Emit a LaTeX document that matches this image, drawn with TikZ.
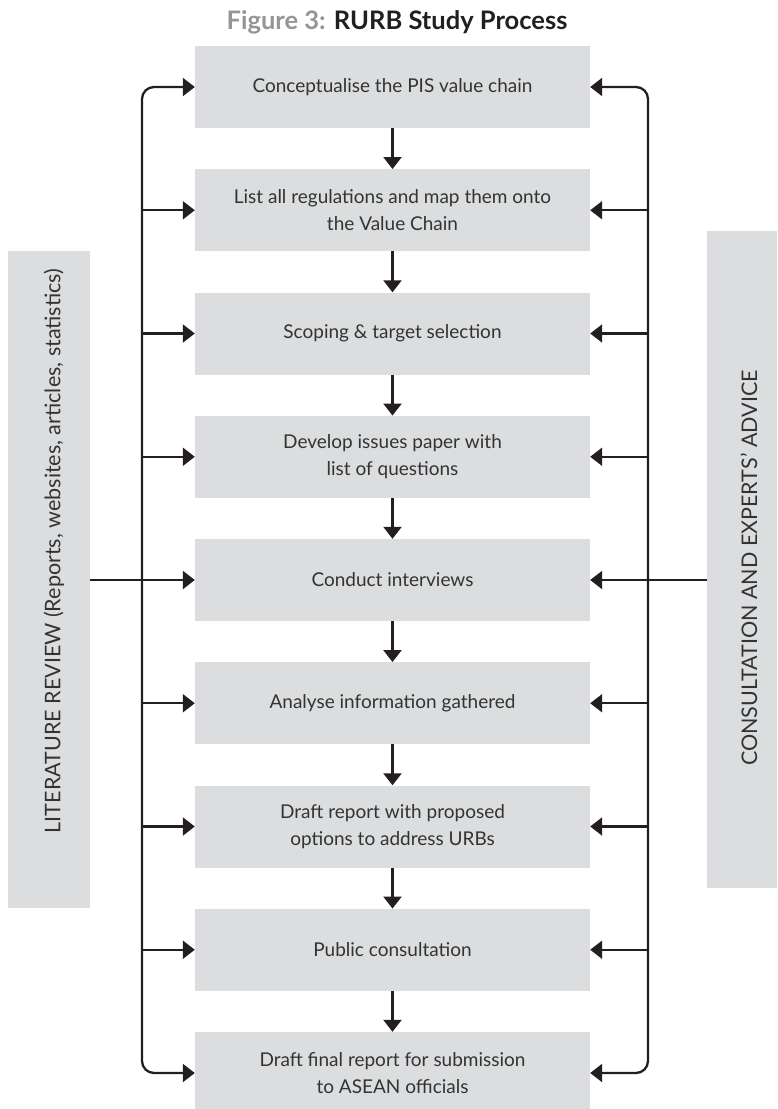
\documentclass[tikz,border=0pt]{standalone}
\usepackage{fontspec}
\setmainfont{Lato}
\usetikzlibrary{arrows.meta}
\definecolor{boxgrey}{HTML}{DCDDDF}
\definecolor{linedark}{HTML}{231F20}
\definecolor{txt}{HTML}{333333}
\definecolor{figgrey}{HTML}{939598}
\tikzset{
  stepbox/.style={fill=boxgrey, draw=none, minimum width=395pt, minimum height=82pt,
    align=center, text=txt, font=\fontsize{19}{27.5}\selectfont, inner sep=0pt},
  sidebar/.style={fill=boxgrey, draw=none, inner sep=0pt},
  sidetext/.style={rotate=90, text=txt, font=\fontsize{21.5}{24}\selectfont, inner sep=0pt},
  conn/.style={draw=linedark, line width=2.3pt, -{Triangle[width=18pt,length=12pt]}},
  trunk/.style={draw=linedark, line width=2.3pt, rounded corners=12pt,
    {Triangle[width=18pt,length=12pt]}-{Triangle[width=18pt,length=12pt]}}
}
\begin{document}
\begin{tikzpicture}[x=1pt,y=-1pt]
\useasboundingbox (0,0) rectangle (777,1109);
\node[font=\fontsize{25.5}{28}\selectfont\bfseries] (title) at (397,22)
  {\textcolor{figgrey}{Figure 3:} \textcolor{linedark}{RURB Study Process}};
% side bars
\node[sidebar, minimum width=82pt, minimum height=657pt] (litbar) at (49,579.5) {};
\node[sidetext] (littext) at (54,551) {LITERATURE REVIEW (Reports, websites, articles, statistics)};
\node[sidebar, minimum width=70pt, minimum height=657pt] (conbar) at (742,559.5) {};
\node[sidetext] (context) at (749,568) {CONSULTATION AND EXPERTS’ ADVICE};
% step boxes
\node[stepbox] (b1) at (392.5,87) {Conceptualise the PIS value chain};
\node[stepbox] (b2) at (392.5,210.25) {List all regulations and map them onto\\the Value Chain};
\node[stepbox] (b3) at (392.5,333.5) {Scoping \& target selection};
\node[stepbox] (b4) at (392.5,456.75) {Develop issues paper with\\list of questions};
\node[stepbox] (b5) at (392.5,580) {Conduct interviews};
\node[stepbox] (b6) at (392.5,703.25) {Analyse information gathered};
\node[stepbox] (b7) at (392.5,826.5) {Draft report with proposed\\options to address URBs};
\node[stepbox] (b8) at (392.5,949.75) {Public consultation};
\node[stepbox] (b9) at (392.5,1073) {Draft final report for submission\\to ASEAN officials};
% trunk coordinates
\coordinate (lt) at (142,0);
\coordinate (rt) at (648,0);
% down arrows
\foreach \a/\b in {b1/b2,b2/b3,b3/b4,b4/b5,b5/b6,b6/b7,b7/b8,b8/b9}
  \draw[conn] (\a) -- (\b);
% left trunk
\draw[trunk] (b1.west) -- (b1.west -| lt) -- (b9.west -| lt) -- (b9.west);
\foreach \b in {b2,b3,b4,b6,b7,b8}
  \draw[conn] (\b.west -| lt) -- (\b.west);
\draw[conn] (litbar.east |- b5.west) -- (b5.west);
% right trunk
\draw[trunk] (b1.east) -- (b1.east -| rt) -- (b9.east -| rt) -- (b9.east);
\foreach \b in {b2,b3,b4,b6,b7,b8}
  \draw[conn] (\b.east -| rt) -- (\b.east);
\draw[conn] (conbar.west |- b5.east) -- (b5.east);
\end{tikzpicture}
\end{document}
